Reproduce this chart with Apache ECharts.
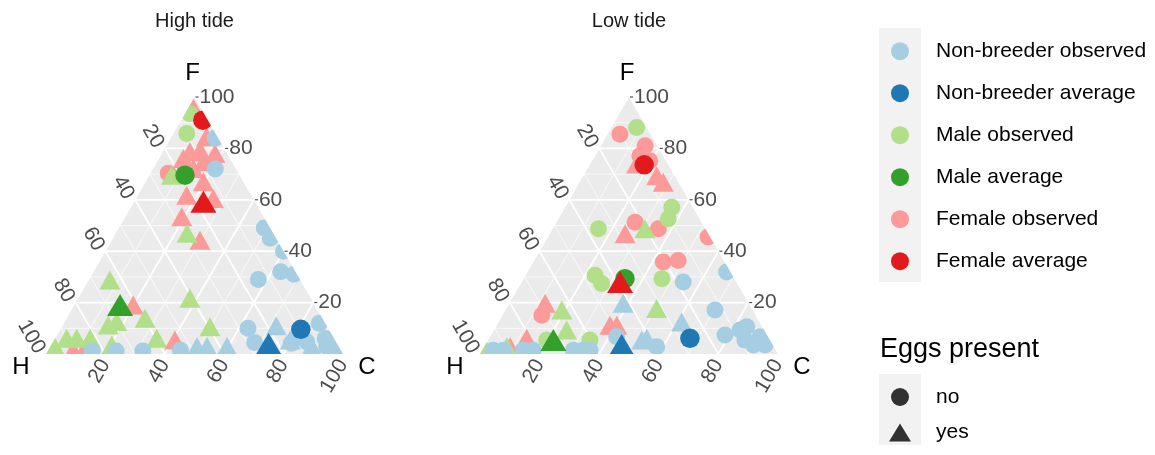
<!DOCTYPE html>
<html><head><meta charset="utf-8">
<script src="https://cdn.jsdelivr.net/npm/echarts@6/dist/echarts.min.js"></script>
<style>html,body{margin:0;padding:0;background:#fff}#c{width:1155px;height:455px}</style>
</head><body><div id="c"></div>
<script>
// ---------- labels ----------
const PANEL_TITLES = ['High tide', 'Low tide'];
const VERTEX_LABELS = ['H', 'C', 'F'];          // bottom-left, bottom-right, top
const TICKS = [20, 40, 60, 80, 100];
const GRID_VALUES = [10, 20, 30, 40, 50, 60, 70, 80, 90];
const GROUP_NAMES = ['Non-breeder observed', 'Non-breeder average', 'Male observed', 'Male average', 'Female observed', 'Female average'];
const GROUP_COLORS = ['#A6CEE3', '#1F78B4', '#B2DF8A', '#33A02C', '#FB9A99', '#E31A1C'];
const EGG_NAMES = ['no', 'yes'];
const EGG_TITLE = 'Eggs present';

// ---------- data: [C, F] in percent (H = 100 - C - F) ----------
// High tide
const HIGH_NB_OBS_NO = [[15,84],[21,72],[49,49],[53,45],[60,40],[63,32],[68,31],[57,29],[63,10],[68,4.5],[86,12],[91,6],[85.4,4.8],[80.5,4.2],[93,3],[15,1.2],[23,1.2],[32,1.2],[44.5,1.5]];
const HIGH_NB_OBS_YES = [[72,11],[79.5,5.4],[95,3.5],[88,3],[49.4,2.9],[52.8,2.9],[59.5,2.9]];
const HIGH_NB_AVG_NO = [[81,9.6]];
const HIGH_NB_AVG_YES = [[73,3.9]];
const HIGH_MALE_OBS_NO = [[1.7,93.5],[4.5,85.8]];
const HIGH_MALE_OBS_YES = [[7.5,69.6],[24,47],[7.1,28.8],[37.6,21.7],[15.3,11.3],[17.5,12.6],[26.4,13.9],[34.2,6.1],[1.6,2.8],[3.9,6.1],[7.3,6.1],[11.8,6.1],[49.9,10.6],[20.4,3.5]];
const HIGH_MALE_AVG_NO = [[12,69.6]];
const HIGH_MALE_AVG_YES = [[15.4,19.1]];
const HIGH_FEM_OBS_NO = [[6,70.3]];
const HIGH_FEM_OBS_YES = [[0.5,97],[11.8,84.5],[9.1,78.7],[12.2,79.3],[17.9,78],[8.2,76.1],[15.6,74.8],[13.5,72.2],[19.5,67],[16.5,61.8],[26.1,60.5],[19,53.4],[29.7,44.3],[19.8,19.1],[40.7,5.4],[8.4,1.5],[12,1.5]];
const HIGH_FEM_AVG_NO = [[7.3,91]];
const HIGH_FEM_AVG_YES = [[23.4,59.2]];
// Low tide
const LOW_NB_OBS_NO = [[66.8,31.9],[54.2,28],[70.3,17.1],[78.5,7.4],[82.6,9.3],[84.2,10.6],[86.2,5.4],[90,3.5],[90.6,6.7],[93.9,3.5],[57.9,2.8],[42.5,6.7],[3.7,1.5],[7.1,1.5],[13.8,1.5],[17.1,1.5],[30.6,1.5],[33.9,1.5],[36.2,1.5]];
const LOW_NB_OBS_YES = [[38.2,19.7],[61.4,12.5],[51.6,5.4],[52.9,6.1]];
const LOW_NB_AVG_NO = [[67.4,6.1]];
const LOW_NB_AVG_YES = [[45.8,3.5]];
const LOW_MALE_OBS_NO = [[8.5,88.1],[35.8,57.1],[36.9,52.6],[15.4,48.7],[23.3,30.6],[27.1,27.4],[46.4,29.3],[34.2,5.4],[19.7,5.4]];
const LOW_MALE_OBS_YES = [[31,48.7],[18.9,17.1],[24.4,9.3],[50.4,17.7],[0.6,2.2],[7.6,2.8]];
const LOW_MALE_AVG_NO = [[34,29.3]];
const LOW_MALE_AVG_YES = [[21.9,5.4]];
const LOW_FEM_OBS_NO = [[4.2,85.5],[14.9,81],[15.1,77.1],[19.4,75.2],[26.4,51.3],[35.5,48.7],[53.8,45.5],[43.6,35.8],[48.3,36.4],[13.2,15.1]];
const LOW_FEM_OBS_YES = [[15.6,73.9],[28.1,66.8],[24.6,69.4],[25.3,46.8],[12,19.7],[38,11.2],[40.3,11.2],[12.6,6.1],[8.7,2.8]];
const LOW_FEM_AVG_NO = [[18.3,73.6]];
const LOW_FEM_AVG_YES = [[33,28]];

const PANEL_DATA = [
  [[HIGH_NB_OBS_NO, HIGH_NB_OBS_YES], [HIGH_NB_AVG_NO, HIGH_NB_AVG_YES], [HIGH_MALE_OBS_NO, HIGH_MALE_OBS_YES],
   [HIGH_MALE_AVG_NO, HIGH_MALE_AVG_YES], [HIGH_FEM_OBS_NO, HIGH_FEM_OBS_YES], [HIGH_FEM_AVG_NO, HIGH_FEM_AVG_YES]],
  [[LOW_NB_OBS_NO, LOW_NB_OBS_YES], [LOW_NB_AVG_NO, LOW_NB_AVG_YES], [LOW_MALE_OBS_NO, LOW_MALE_OBS_YES],
   [LOW_MALE_AVG_NO, LOW_MALE_AVG_YES], [LOW_FEM_OBS_NO, LOW_FEM_OBS_YES], [LOW_FEM_AVG_NO, LOW_FEM_AVG_YES]]
];
const DRAW_ORDER = [4, 2, 0, 1, 3, 5];

// ternary (C, F) -> cartesian (x, y) in a 0..100 frame; y axis spans F
const toXY = p => [p[0] + p[1] / 2, p[1]];

const FONT = 'Liberation Sans, Arial, Helvetica, sans-serif';
const chart = echarts.init(document.getElementById('c'));

const series = [];
[0, 1].forEach(pi => {
  const ax = {xAxisIndex: pi, yAxisIndex: pi};
  // background triangle
  series.push(Object.assign({
    type: 'custom', silent: true, z: 1, clip: false, data: [[0, 0]],
    renderItem: (params, api) => ({
      type: 'polygon',
      shape: {points: [api.coord([0, 0]), api.coord([100, 0]), api.coord([50, 100])]},
      style: {fill: '#EBEBEB'}
    })
  }, ax));
  // grid lines
  series.push(Object.assign({
    type: 'custom', silent: true, z: 2, clip: false, data: GRID_VALUES.map(v => [v, 0]),
    renderItem: (params, api) => {
      const v = api.value(0);
      const major = v % 20 === 0;
      const segs = [
        [[v / 2, v], [100 - v / 2, v]],
        [[v, 0], [v + (100 - v) / 2, 100 - v]],
        [[100 - v, 0], [(100 - v) / 2, 100 - v]]
      ];
      return {type: 'group', children: segs.map(s => {
        const a = api.coord(s[0]), b = api.coord(s[1]);
        return {type: 'line', shape: {x1: a[0], y1: a[1], x2: b[0], y2: b[1]},
                style: {stroke: '#FFFFFF', lineWidth: major ? 1.8 : 0.7}};
      })};
    }
  }, ax));
  // points
  DRAW_ORDER.forEach(gi => {
    const avg = gi % 2 === 1;
    [0, 1].forEach(ei => {
      series.push(Object.assign({
        type: 'scatter', name: GROUP_NAMES[gi], z: 3,
        symbol: ei === 0 ? 'circle' : 'triangle',
        symbolSize: ei === 0 ? (avg ? 19.5 : 17) : (avg ? [26, 22] : [21, 19]),
        itemStyle: {color: GROUP_COLORS[gi], opacity: 1},
        data: PANEL_DATA[pi][gi][ei].map(toXY)
      }, ax));
    });
  });
  // white masks outside the triangle edges (clip markers to the triangle)
  series.push(Object.assign({
    type: 'custom', silent: true, z: 5, clip: false, data: [[0, 0]],
    renderItem: (params, api) => {
      const H = api.coord([0, 0]), C = api.coord([100, 0]), F = api.coord([50, 100]);
      const w = 16, ext = 16;
      const band = (p, q, n) => {
        const dx = q[0] - p[0], dy = q[1] - p[1], L = Math.hypot(dx, dy);
        const u = [dx / L, dy / L];
        const p2 = [p[0] - u[0] * ext, p[1] - u[1] * ext], q2 = [q[0] + u[0] * ext, q[1] + u[1] * ext];
        return {type: 'polygon', shape: {points: [p2, q2, [q2[0] + n[0] * w, q2[1] + n[1] * w], [p2[0] + n[0] * w, p2[1] + n[1] * w]]},
                style: {fill: '#FFFFFF'}};
      };
      return {type: 'group', children: [
        band(H, F, [-0.866, -0.5]), band(C, F, [0.866, -0.5]), band(H, C, [0, 1])
      ]};
    }
  }, ax));
  // ticks + tick labels
  series.push(Object.assign({
    type: 'custom', silent: true, z: 6, clip: false, data: TICKS.map(v => [v, 0]),
    renderItem: (params, api) => {
      const v = api.value(0);
      const ts = {fill: '#4D4D4D', fontSize: 21, fontFamily: FONT, text: String(v)};
      const r = api.coord([100 - v / 2, v]);
      const l = api.coord([(100 - v) / 2, 100 - v]);
      const b = api.coord([v, 0]);
      return {type: 'group', children: [
        {type: 'line', shape: {x1: r[0] + 1, y1: r[1], x2: r[0] + 4, y2: r[1]}, style: {stroke: '#333', lineWidth: 1}},
        {type: 'text', x: r[0] + 5, y: r[1], style: Object.assign({textAlign: 'left', textVerticalAlign: 'middle'}, ts)},
        {type: 'text', x: l[0] - 6, y: l[1] - 2, rotation: -Math.PI / 3,
         style: Object.assign({textAlign: 'right', textVerticalAlign: 'middle'}, ts)},
        {type: 'text', x: b[0], y: b[1] + 7, rotation: Math.PI / 3,
         style: Object.assign({textAlign: 'right', textVerticalAlign: 'middle'}, ts)}
      ]};
    }
  }, ax));
  // vertex labels
  series.push(Object.assign({
    type: 'custom', silent: true, z: 6, clip: false, data: [[0, 0]],
    renderItem: (params, api) => {
      const H = api.coord([0, 0]), C = api.coord([100, 0]), F = api.coord([50, 100]);
      const st = t => ({text: t, fill: '#000', fontSize: 24, fontFamily: FONT, textAlign: 'center', textVerticalAlign: 'middle'});
      return {type: 'group', children: [
        {type: 'text', x: H[0] - 25, y: H[1] + 13, style: st(VERTEX_LABELS[0])},
        {type: 'text', x: C[0] + 24, y: C[1] + 13, style: st(VERTEX_LABELS[1])},
        {type: 'text', x: F[0] - 2, y: F[1] - 24, style: st(VERTEX_LABELS[2])}
      ]};
    }
  }, ax));
});
// legend-only series for egg shapes
EGG_NAMES.forEach(n => series.push({type: 'scatter', name: n, data: [], xAxisIndex: 0, yAxisIndex: 0, itemStyle: {color: '#000000'}}));

const option = {
  animation: false,
  backgroundColor: '#FFFFFF',
  title: [
    {text: PANEL_TITLES[0], left: 194.5, top: 11, textAlign: 'center', padding: 0,
     textStyle: {fontSize: 20, fontWeight: 'normal', color: '#1A1A1A', fontFamily: FONT}},
    {text: PANEL_TITLES[1], left: 629, top: 11, textAlign: 'center', padding: 0,
     textStyle: {fontSize: 20, fontWeight: 'normal', color: '#1A1A1A', fontFamily: FONT}},
    {text: EGG_TITLE, left: 880, top: 336, padding: 0,
     textStyle: {fontSize: 27, fontWeight: 'normal', color: '#000', fontFamily: FONT}}
  ],
  grid: [
    {left: 46, top: 97, width: 297, height: 257},
    {left: 480, top: 97, width: 298, height: 257}
  ],
  xAxis: [0, 1].map(i => ({type: 'value', gridIndex: i, min: 0, max: 100, show: false})),
  yAxis: [0, 1].map(i => ({type: 'value', gridIndex: i, min: 0, max: 100, show: false})),
  graphic: [
    {type: 'rect', left: 879, top: 28, shape: {width: 42, height: 254}, style: {fill: '#F2F2F2'}, z: -1},
    {type: 'rect', left: 879, top: 374, shape: {width: 42, height: 71}, style: {fill: '#F2F2F2'}, z: -1}
  ],
  legend: [
    {data: GROUP_NAMES.map(n => ({name: n, icon: 'circle'})), orient: 'vertical', left: 891, top: 40.7,
     itemWidth: 18, itemHeight: 18, itemGap: 21, padding: 0, selectedMode: false,
     textStyle: {fontSize: 21, color: '#000', fontFamily: FONT, lineHeight: 20, padding: [0, 0, 0, 22]}},
    {data: [{name: EGG_NAMES[0], icon: 'circle', itemStyle: {color: '#000000'}},
            {name: EGG_NAMES[1], icon: 'triangle', itemStyle: {color: '#000000'}}],
     orient: 'vertical', left: 889, top: 386.5,
     itemWidth: 22, itemHeight: 18, itemGap: 14.5, padding: 0, selectedMode: false,
     textStyle: {fontSize: 21, color: '#000', fontFamily: FONT, lineHeight: 20, padding: [0, 0, 0, 20]}}
  ],
  series: series
};
chart.setOption(option);
</script></body></html>
